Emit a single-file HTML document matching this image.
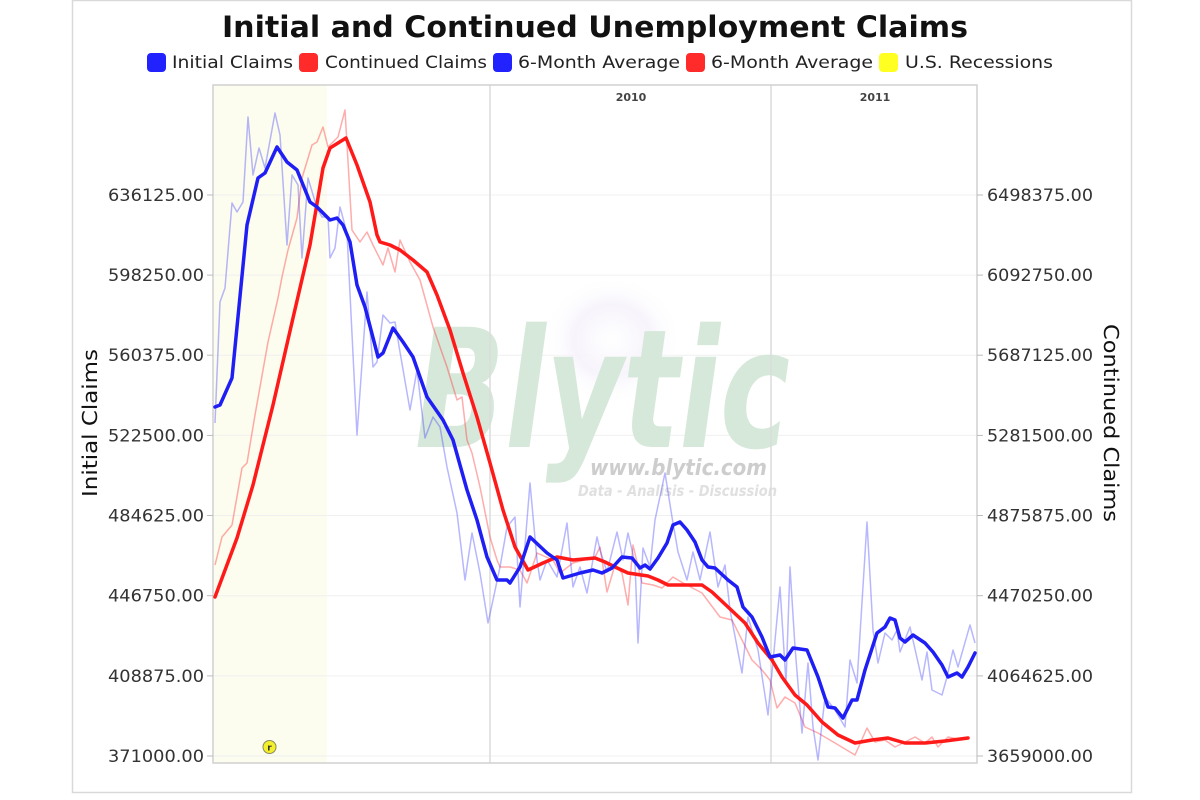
<!DOCTYPE html>
<html><head><meta charset="utf-8"><style>
html,body{margin:0;padding:0;background:#fff;}
svg{display:block;}
text{font-family:"DejaVu Sans","Liberation Sans",sans-serif;}
</style></head><body>
<svg width="1200" height="800" viewBox="0 0 1200 800" xmlns="http://www.w3.org/2000/svg">
<defs>
<radialGradient id="glow" cx="0.5" cy="0.5" r="0.5">
<stop offset="0" stop-color="#ffffff" stop-opacity="1"/>
<stop offset="0.55" stop-color="#f6f3fb" stop-opacity="0.9"/>
<stop offset="1" stop-color="#ffffff" stop-opacity="0"/>
</radialGradient>
</defs>
<rect x="0" y="0" width="1200" height="800" fill="#fff"/>
<rect x="72.5" y="0.5" width="1059" height="792" fill="#fff" stroke="#d9d9d9" stroke-width="1.5"/>

<!-- Title -->
<text x="222" y="37" font-size="29" font-weight="bold" fill="#111" textLength="746" lengthAdjust="spacingAndGlyphs">Initial and Continued Unemployment Claims</text>

<!-- Legend -->
<g font-size="17" fill="#222">
<rect x="147" y="53" width="19" height="19" rx="4" fill="#2222ff"/>
<text x="172" y="68" textLength="121" lengthAdjust="spacingAndGlyphs">Initial Claims</text>
<rect x="299" y="53" width="19" height="19" rx="4" fill="#ff2a2a"/>
<text x="325" y="68" textLength="162" lengthAdjust="spacingAndGlyphs">Continued Claims</text>
<rect x="493" y="53" width="19" height="19" rx="4" fill="#2222ff"/>
<text x="518" y="68" textLength="162" lengthAdjust="spacingAndGlyphs">6-Month Average</text>
<rect x="686" y="53" width="19" height="19" rx="4" fill="#ff2a2a"/>
<text x="711" y="68" textLength="162" lengthAdjust="spacingAndGlyphs">6-Month Average</text>
<rect x="879" y="53" width="19" height="19" rx="4" fill="#ffff22"/>
<text x="905" y="68" textLength="148" lengthAdjust="spacingAndGlyphs">U.S. Recessions</text>
</g>

<!-- Plot area -->
<rect x="213" y="85" width="764" height="678" fill="#fff"/>
<rect x="213" y="85" width="114" height="678" fill="#fcfcef"/>

<!-- horizontal grid -->
<g stroke="#f0f0f0" stroke-width="1">
<line x1="213" x2="977" y1="756" y2="756"/>
<line x1="213" x2="977" y1="675.9" y2="675.9"/>
<line x1="213" x2="977" y1="595.7" y2="595.7"/>
<line x1="213" x2="977" y1="515.5" y2="515.5"/>
<line x1="213" x2="977" y1="435.4" y2="435.4"/>
<line x1="213" x2="977" y1="355.2" y2="355.2"/>
<line x1="213" x2="977" y1="275.1" y2="275.1"/>
<line x1="213" x2="977" y1="195" y2="195"/>
</g>

<!-- watermark -->
<ellipse cx="612" cy="340" rx="70" ry="65" fill="url(#glow)"/>
<text x="415" y="447" font-size="165" font-weight="bold" font-style="italic" fill="#d6e8d9" textLength="375" lengthAdjust="spacingAndGlyphs">Blytic</text>
<text x="590" y="475" font-size="22" font-weight="bold" font-style="italic" fill="#cdcdcd" textLength="177" lengthAdjust="spacingAndGlyphs">www.blytic.com</text>
<text x="578" y="496" font-size="15" font-weight="bold" font-style="italic" fill="#e0e0e0" textLength="199" lengthAdjust="spacingAndGlyphs">Data - Analisis - Discussion</text>

<!-- vertical year lines -->
<line x1="490" x2="490" y1="85" y2="763" stroke="#dcdcdc" stroke-width="1.5"/>
<line x1="771" x2="771" y1="85" y2="763" stroke="#dcdcdc" stroke-width="1.5"/>
<g font-size="11" font-weight="bold" fill="#444" text-anchor="middle">
<text x="631" y="101">2010</text>
<text x="875" y="101">2011</text>
</g>

<!-- plot border -->
<rect x="213" y="85" width="764" height="678" fill="none" stroke="#d0d0d0" stroke-width="1.5"/>

<!-- ticks -->
<g stroke="#bbb" stroke-width="1">
<line x1="207" x2="213" y1="756" y2="756"/><line x1="207" x2="213" y1="675.9" y2="675.9"/>
<line x1="207" x2="213" y1="595.7" y2="595.7"/><line x1="207" x2="213" y1="515.5" y2="515.5"/>
<line x1="207" x2="213" y1="435.4" y2="435.4"/><line x1="207" x2="213" y1="355.2" y2="355.2"/>
<line x1="207" x2="213" y1="275.1" y2="275.1"/><line x1="207" x2="213" y1="195" y2="195"/>
<line x1="977" x2="983" y1="756" y2="756"/><line x1="977" x2="983" y1="675.9" y2="675.9"/>
<line x1="977" x2="983" y1="595.7" y2="595.7"/><line x1="977" x2="983" y1="515.5" y2="515.5"/>
<line x1="977" x2="983" y1="435.4" y2="435.4"/><line x1="977" x2="983" y1="355.2" y2="355.2"/>
<line x1="977" x2="983" y1="275.1" y2="275.1"/><line x1="977" x2="983" y1="195" y2="195"/>
</g>

<!-- left labels -->
<g font-size="17" fill="#333" text-anchor="end">
<text x="204" y="762" textLength="96" lengthAdjust="spacingAndGlyphs">371000.00</text>
<text x="204" y="682" textLength="96" lengthAdjust="spacingAndGlyphs">408875.00</text>
<text x="204" y="601.5" textLength="96" lengthAdjust="spacingAndGlyphs">446750.00</text>
<text x="204" y="521.5" textLength="96" lengthAdjust="spacingAndGlyphs">484625.00</text>
<text x="204" y="441.5" textLength="96" lengthAdjust="spacingAndGlyphs">522500.00</text>
<text x="204" y="361" textLength="96" lengthAdjust="spacingAndGlyphs">560375.00</text>
<text x="204" y="281" textLength="96" lengthAdjust="spacingAndGlyphs">598250.00</text>
<text x="204" y="201" textLength="96" lengthAdjust="spacingAndGlyphs">636125.00</text>
</g>
<!-- right labels -->
<g font-size="17" fill="#333">
<text x="987" y="762" textLength="106" lengthAdjust="spacingAndGlyphs">3659000.00</text>
<text x="987" y="682" textLength="106" lengthAdjust="spacingAndGlyphs">4064625.00</text>
<text x="987" y="601.5" textLength="106" lengthAdjust="spacingAndGlyphs">4470250.00</text>
<text x="987" y="521.5" textLength="106" lengthAdjust="spacingAndGlyphs">4875875.00</text>
<text x="987" y="441.5" textLength="106" lengthAdjust="spacingAndGlyphs">5281500.00</text>
<text x="987" y="361" textLength="106" lengthAdjust="spacingAndGlyphs">5687125.00</text>
<text x="987" y="281" textLength="106" lengthAdjust="spacingAndGlyphs">6092750.00</text>
<text x="987" y="201" textLength="106" lengthAdjust="spacingAndGlyphs">6498375.00</text>
</g>

<!-- axis titles -->
<text transform="translate(97,423) rotate(-90)" font-size="20" fill="#111" text-anchor="middle" textLength="148" lengthAdjust="spacingAndGlyphs">Initial Claims</text>
<text transform="translate(1104,423) rotate(90)" font-size="20" fill="#111" text-anchor="middle" textLength="198" lengthAdjust="spacingAndGlyphs">Continued Claims</text>

<!-- recession marker -->
<circle cx="269.5" cy="747" r="6.5" fill="#f3ef2a" stroke="#8a8a60" stroke-width="1"/>
<text x="269.5" y="750.5" font-size="9" font-weight="bold" fill="#333" text-anchor="middle">r</text>

<!-- thin series -->
<polyline fill="none" stroke="#ff3030" stroke-opacity="0.4" stroke-width="1.5" stroke-linejoin="round" points="215,565 222,537 232,525 242,468 247,463 255,415 268,342 278,298 282,277 288,250 297,218 302,178 312,145 317,142 323,127 328,147 338,137 345,110 352,230 360,242 367,232 373,245 383,265 388,248 395,272 400,240 410,262 420,280 433,327 447,367 457,400 462,397 467,440 472,453 480,487 490,537 497,560 500,567 510,567 520,570 527,583 537,553 553,560 560,573 573,563 595,557 600,547 607,592 615,565 622,573 628,605 633,545 642,583 653,585 662,588 673,577 683,583 702,593 720,617 732,620 742,640 752,660 762,670 770,680 777,708 785,697 795,703 805,727 818,733 835,743 855,755 867,728 875,742 885,740 895,747 915,737 925,743 932,737 938,747 948,737 962,740 968,737"/>
<polyline fill="none" stroke="#3030ff" stroke-opacity="0.35" stroke-width="1.5" stroke-linejoin="round" points="215,423 220,302 225,288 232,203 237,212 243,202 248,117 253,175 259,148 265,168 275,113 280,135 287,245 292,175 298,185 302,258 308,178 317,208 322,217 328,217 330,258 335,248 340,207 347,233 357,435 367,292 373,367 377,362 383,315 390,323 395,322 400,352 410,410 417,370 425,438 433,417 440,427 447,467 457,513 465,580 472,533 480,573 488,623 493,600 500,567 507,527 515,517 520,607 530,483 537,560 540,580 547,560 557,577 567,523 573,587 580,567 587,593 597,537 600,550 607,572 617,532 623,560 628,533 635,563 638,643 643,548 650,567 655,520 665,473 672,517 678,552 687,580 693,552 700,580 710,532 718,587 725,565 730,610 742,673 748,617 758,650 768,715 780,587 786,683 790,567 795,647 802,733 808,663 813,727 818,760 825,697 835,710 845,727 850,660 857,683 867,522 873,630 878,663 885,633 892,640 897,630 900,652 910,627 922,680 927,652 932,690 942,695 947,677 953,650 958,667 970,625 975,643"/>

<!-- thick averages -->
<polyline fill="none" stroke="#ff1a1a" stroke-width="3.5" stroke-linejoin="round" stroke-linecap="round" points="215,597 237,538 253,485 273,405 293,318 310,245 323,168 330,148 338,143 346,138 357,165 370,202 377,235 380,242 390,245 400,250 413,260 427,272 437,295 450,330 463,373 477,417 490,463 503,510 515,547 528,570 543,563 557,557 573,560 595,558 605,562 615,567 628,573 648,576 658,580 668,585 682,585 702,585 712,592 728,607 745,623 758,643 772,660 782,677 795,695 807,705 822,722 838,735 855,743 872,740 888,738 905,743 925,743 945,741 968,738"/>
<polyline fill="none" stroke="#1e1ef5" stroke-width="3.5" stroke-linejoin="round" stroke-linecap="round" points="215,407 220,405 232,378 247,225 258,178 265,173 277,147 287,162 297,170 310,202 317,207 330,220 337,218 343,225 350,242 357,285 365,307 378,357 383,353 393,328 403,342 413,357 427,397 443,420 453,440 467,490 477,520 487,557 497,580 507,580 510,583 520,567 530,537 547,553 557,560 563,578 580,573 593,570 602,573 612,568 622,557 632,558 640,568 645,565 650,569 658,558 667,543 673,525 680,522 687,530 695,542 702,560 708,567 715,568 728,580 737,587 743,607 752,617 762,637 770,657 780,655 785,660 793,648 807,650 818,677 828,707 835,708 843,718 852,700 857,700 865,670 877,633 885,627 890,618 895,620 900,638 905,642 913,635 925,643 933,652 942,665 948,677 957,673 962,677 968,667 975,653"/>
</svg>
</body></html>
